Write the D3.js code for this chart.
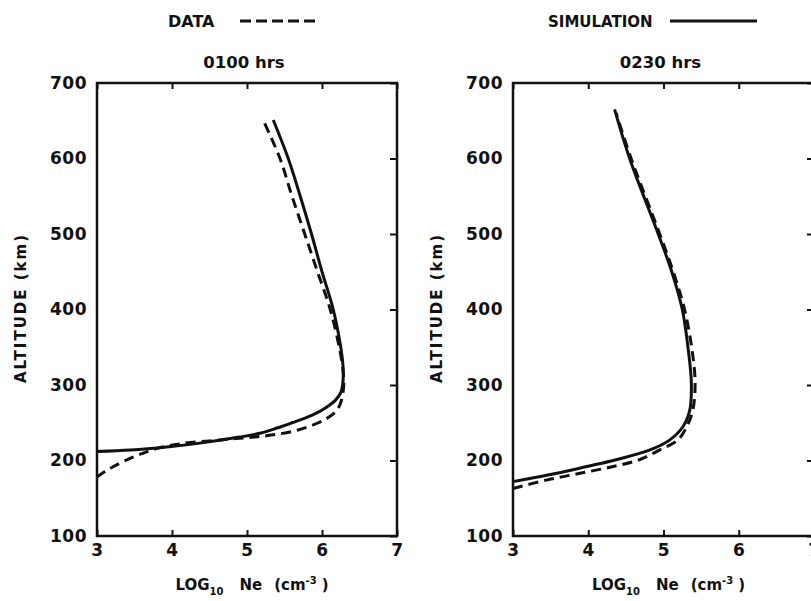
<!DOCTYPE html>
<html>
<head>
<meta charset="utf-8">
<script src="https://cdn.jsdelivr.net/npm/d3@7"></script>
<style>
  body { margin: 0; background: #fff; }
  text { font-family: "DejaVu Sans", sans-serif; font-weight: bold; fill: #111; }
</style>
</head>
<body>
<svg id="chart" width="811" height="601"></svg>
<script>
// values: altitude (km) vs log10 Ne (cm^-3)
const xTicks = [3, 4, 5, 6, 7];
const yTicks = [100, 200, 300, 400, 500, 600, 700];

// 0100 hrs
const simAlt01 = [212, 214, 218, 223, 231, 236, 243, 250, 260, 270, 280, 290, 305, 325, 350, 400, 450, 500, 550, 600, 651];
const simNe01  = [3.0, 3.45, 3.93, 4.37, 4.9, 5.17, 5.4, 5.6, 5.87, 6.05, 6.18, 6.25, 6.28, 6.28, 6.25, 6.15, 6.0, 5.86, 5.71, 5.55, 5.35];
const dataAlt01 = [178, 185, 192, 200, 208, 216, 222, 226, 229, 231, 234, 240, 250, 260, 270, 280, 300, 320, 345, 400, 450, 500, 550, 600, 650];
const dataNe01  = [3.0, 3.1, 3.22, 3.38, 3.57, 3.8, 4.1, 4.5, 4.85, 5.1, 5.35, 5.67, 5.95, 6.13, 6.22, 6.26, 6.29, 6.28, 6.24, 6.11, 5.94, 5.77, 5.6, 5.44, 5.22];

// 0230 hrs
const simAlt0230 = [172, 183, 192, 201, 214, 227, 245, 267, 303, 346, 400, 450, 500, 600, 665];
const simNe0230  = [3.0, 3.58, 3.98, 4.37, 4.82, 5.08, 5.26, 5.35, 5.37, 5.33, 5.25, 5.11, 4.93, 4.55, 4.35];
const dataAlt0230 = [163, 174, 183, 192, 201, 214, 227, 245, 267, 303, 346, 400, 450, 500, 600, 660];
const dataNe0230  = [3.0, 3.44, 3.89, 4.33, 4.68, 4.95, 5.19, 5.31, 5.39, 5.42, 5.38, 5.28, 5.13, 4.95, 4.57, 4.37];

const svg = d3.select("#chart");

// legend
svg.append("text").attr("x", 168).attr("y", 27).style("font-size", "16px").text("DATA");
svg.append("line").attr("x1", 240).attr("x2", 318).attr("y1", 21).attr("y2", 21)
    .attr("stroke", "#111").attr("stroke-width", 3).attr("stroke-dasharray", "11,5");
svg.append("text").attr("x", 548).attr("y", 27).style("font-size", "15px").text("SIMULATION");
svg.append("line").attr("x1", 670).attr("x2", 757).attr("y1", 21).attr("y2", 21)
    .attr("stroke", "#111").attr("stroke-width", 3);

function panel(x0, x1, title, sim, dat) {
    let x = d3.scaleLinear().domain([3, 7]).range([x0, x1]);
    let y = d3.scaleLinear().domain([100, 700]).range([536, 83]);
    let g = svg.append("g");

    g.append("text").attr("x", (x0 + x1) / 2 - 3).attr("y", 68)
        .attr("text-anchor", "middle").style("font-size", "16.5px").text(title);

    // inward ticks: top, bottom, right
    g.append("g").attr("transform", "translate(0,536)")
        .call(d3.axisBottom(x).tickValues(xTicks).tickSize(-6).tickPadding(8).tickFormat(d3.format("d")));
    g.append("g").attr("transform", "translate(0,83)")
        .call(d3.axisTop(x).tickValues(xTicks).tickSize(-6).tickFormat(""));
    g.append("g").attr("transform", `translate(${x1},0)`)
        .call(d3.axisRight(y).tickValues(yTicks).tickSize(-7).tickFormat(""));
    g.append("g").attr("transform", `translate(${x0},0)`)
        .call(d3.axisLeft(y).tickValues(yTicks).tickSize(0).tickPadding(10));
    g.selectAll(".domain").remove();
    g.selectAll(".tick line").attr("stroke", "#111").attr("stroke-width", 2);
    g.selectAll(".tick text").style("font-size", "17px").style("font-family", "DejaVu Sans")
        .style("font-weight", "bold").style("letter-spacing", "0.5px").attr("fill", "#111");

    g.append("rect").attr("x", x0).attr("y", 83).attr("width", x1 - x0).attr("height", 536 - 83)
        .attr("fill", "none").attr("stroke", "#111").attr("stroke-width", 2.5);

    // axis titles
    let xt = g.append("text").attr("x", (x0 + x1) / 2 + 5).attr("y", 590)
        .attr("text-anchor", "middle").style("font-size", "15px");
    xt.append("tspan").text("LOG");
    xt.append("tspan").attr("dy", 5).style("font-size", "10px").text("10");
    xt.append("tspan").attr("dy", -5).attr("dx", 16).text("Ne");
    xt.append("tspan").attr("dx", 12).text("(cm");
    xt.append("tspan").attr("dy", -6).style("font-size", "10px").text("-3");
    xt.append("tspan").attr("dy", 6).attr("dx", 5).text(")");

    g.append("text").attr("transform", `translate(${x0 - 71},308) rotate(-90)`)
        .attr("text-anchor", "middle").style("font-size", "15px").style("letter-spacing", "2px")
        .text("ALTITUDE  (km)");

    let line = d3.line().x(d => x(d[0])).y(d => y(d[1])).curve(d3.curveCatmullRom);
    g.append("path").datum(d3.zip(dat[1], dat[0])).attr("d", line)
        .attr("fill", "none").attr("stroke", "#111").attr("stroke-width", 3)
        .attr("stroke-dasharray", "10,6");
    g.append("path").datum(d3.zip(sim[1], sim[0])).attr("d", line)
        .attr("fill", "none").attr("stroke", "#111").attr("stroke-width", 3);
}

panel(97, 397, "0100 hrs", [simAlt01, simNe01], [dataAlt01, dataNe01]);
panel(513, 814, "0230  hrs", [simAlt0230, simNe0230], [dataAlt0230, dataNe0230]);
</script>
</body>
</html>
